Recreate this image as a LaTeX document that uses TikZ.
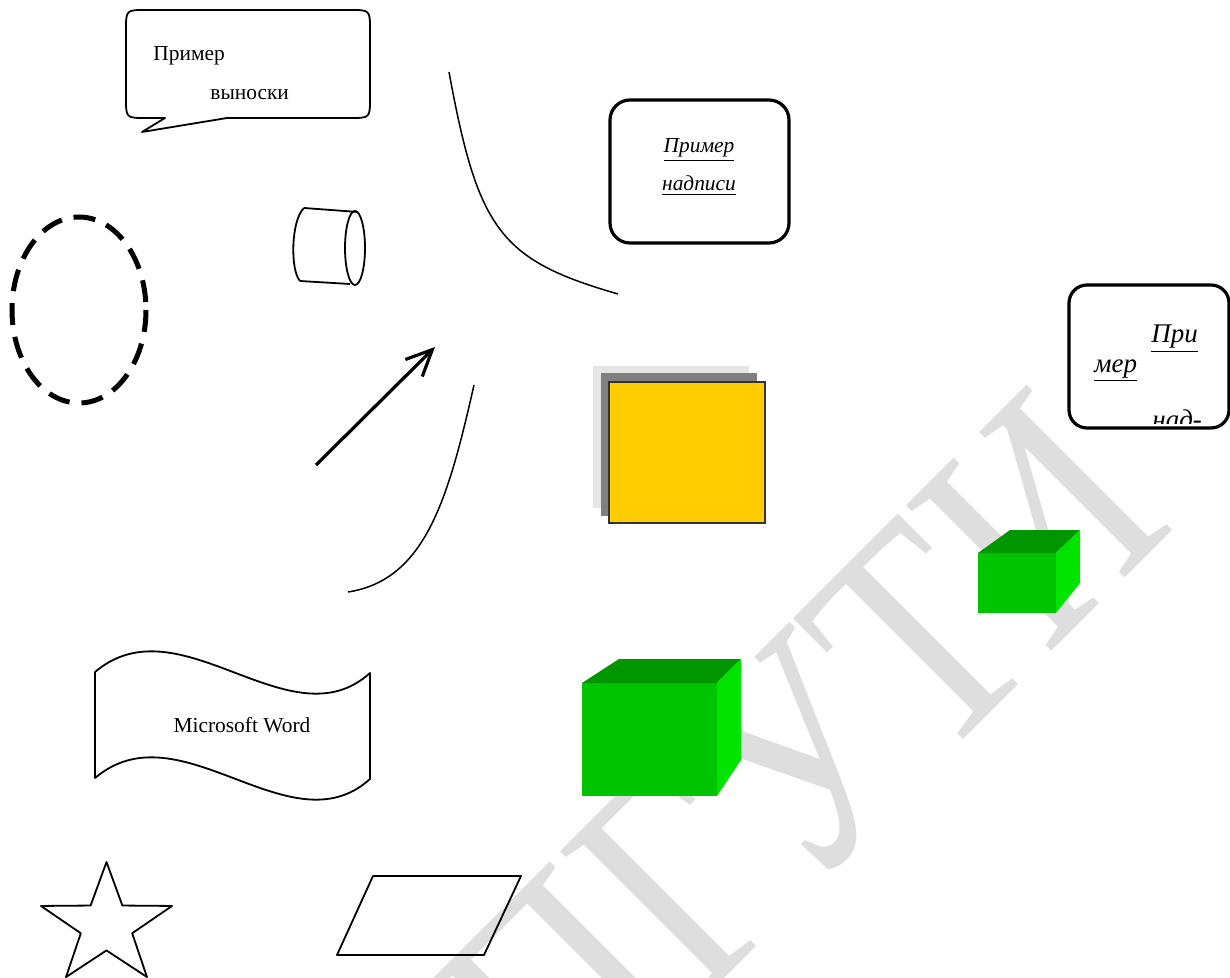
\documentclass[tikz,border=0pt]{standalone}
\usepackage{fontspec}
\setmainfont{Liberation Serif}
\usetikzlibrary{arrows.meta,positioning,calc}
\definecolor{wmGray}{RGB}{222,222,222}
\definecolor{boxYellow}{RGB}{255,204,0}
\definecolor{shadeDark}{RGB}{128,128,128}
\definecolor{shadeLight}{RGB}{229,229,229}
\definecolor{cubeFront}{RGB}{0,196,0}
\definecolor{cubeTop}{RGB}{0,150,0}
\definecolor{cubeSide}{RGB}{0,228,0}

\begin{document}
\begin{tikzpicture}[x=0.5pt,y=-0.5pt,
      shp/.style={draw,line width=0.9pt,line join=round},
      crv/.style={draw,line width=0.75pt},
      frame/.style={draw,line width=1.6pt,rounded corners=10pt},
      lbl/.style={inner sep=0pt,anchor=base west,font=\fontsize{10.7}{12}\selectfont},
      notetxt/.style={inner sep=0pt,anchor=base,font=\fontsize{10.7}{12}\selectfont\itshape},
      sidetxt/.style={inner sep=0pt,anchor=base west,font=\fontsize{13.5}{15}\selectfont\itshape},
      wm/.style={inner sep=0pt,text=wmGray,font=\fontsize{157}{157}\selectfont}]
    \useasboundingbox (0,0) rectangle (1230,978);
    \node[wm,rotate=45,xscale=0.82,anchor=base east] (wmark) at (1178,525) {ПГУТИ};

    \draw[shp] (165,118) -- (142,132) -- (227,118) -- (350,118) .. controls (370,118) .. (370,98)
      -- (370,30) .. controls (370,10) .. (350,10) -- (146,10) .. controls (126,10) .. (126,30)
      -- (126,98) .. controls (126,118) .. (146,118) -- cycle;
    \node[lbl] (callA) at (153,61) {Пример};
    \node[lbl] (callB) at (210,100) {выноски};

    \draw[crv] (449,72) .. controls (478,230) and (500,260) .. (618,294);
    \draw[crv] (474,385) .. controls (448,500) and (425,580) .. (348,592);
    \draw[line width=1.6pt,-{Straight Barb[length=13pt,width=12pt]}] (316,465) -- (435,347);

    \draw[shp] (304,208) -- (358,212);
    \draw[shp] (300,281) -- (350,284);
    \draw[shp] (300,281) .. controls (290,270) and (291,220) .. (304,208);
    \draw[shp] (355,248) ellipse [x radius=10, y radius=37];

    \draw[line width=2.5pt,dash pattern=on 11pt off 6pt] (79,310) ellipse [x radius=67, y radius=93];

    \draw[frame] (610,100) rectangle (789,243);
    \node[notetxt] (noteA) at (699,153) {\underline{Пример}};
    \node[notetxt] (noteB) at (699,191) {\underline{надписи}};

    \draw[frame,rounded corners=9pt] (1069,285) rectangle (1229,428);
    \node[sidetxt] (sideA) at (1151,343) {\underline{При}};
    \node[sidetxt] (sideB) at (1094,372) {\underline{мер}};
    \begin{scope}
      \clip (1069,285) rectangle (1229,423);
      \node[sidetxt] (sideC) at (1152,428) {над-};
    \end{scope}

    \fill[shadeLight] (593,366) rectangle (749,508);
    \fill[shadeDark] (601,373) rectangle (757,516);
    \draw[fill=boxYellow,draw=black!80,line width=0.8pt] (609,382) rectangle (765,523);

    \fill[cubeFront] (978,553) rectangle (1056,613);
    \fill[cubeTop] (978,553) -- (1010,530) -- (1080,530) -- (1056,553) -- cycle;
    \fill[cubeSide] (1056,553) -- (1080,530) -- (1080,583) -- (1056,613) -- cycle;

    \fill[cubeFront] (582,683) rectangle (717,796);
    \fill[cubeTop] (582,683) -- (619,659) -- (741,659) -- (717,683) -- cycle;
    \fill[cubeSide] (717,683) -- (741,659) -- (741,760) -- (717,796) -- cycle;

    \draw[shp] (95,672) .. controls (180,600) and (290,745) .. (370,673) -- (370,779)
      .. controls (290,851) and (180,706) .. (95,778) -- cycle;
    \node[lbl,anchor=base] (wordTxt) at (242,732) {Microsoft Word};

    \draw[shp] (106.5,862) \foreach \a in {72,144,...,360}{
        -- ({106.5+27*sin(\a-36)},{925.6-24.8*cos(\a-36)})
        -- ({106.5+68.9*sin(\a)},{925.6-63.6*cos(\a)})} -- cycle;

    \draw[shp] (373,876) -- (521,876) -- (484,955) -- (337,955) -- cycle;
  \end{tikzpicture}
\end{document}
